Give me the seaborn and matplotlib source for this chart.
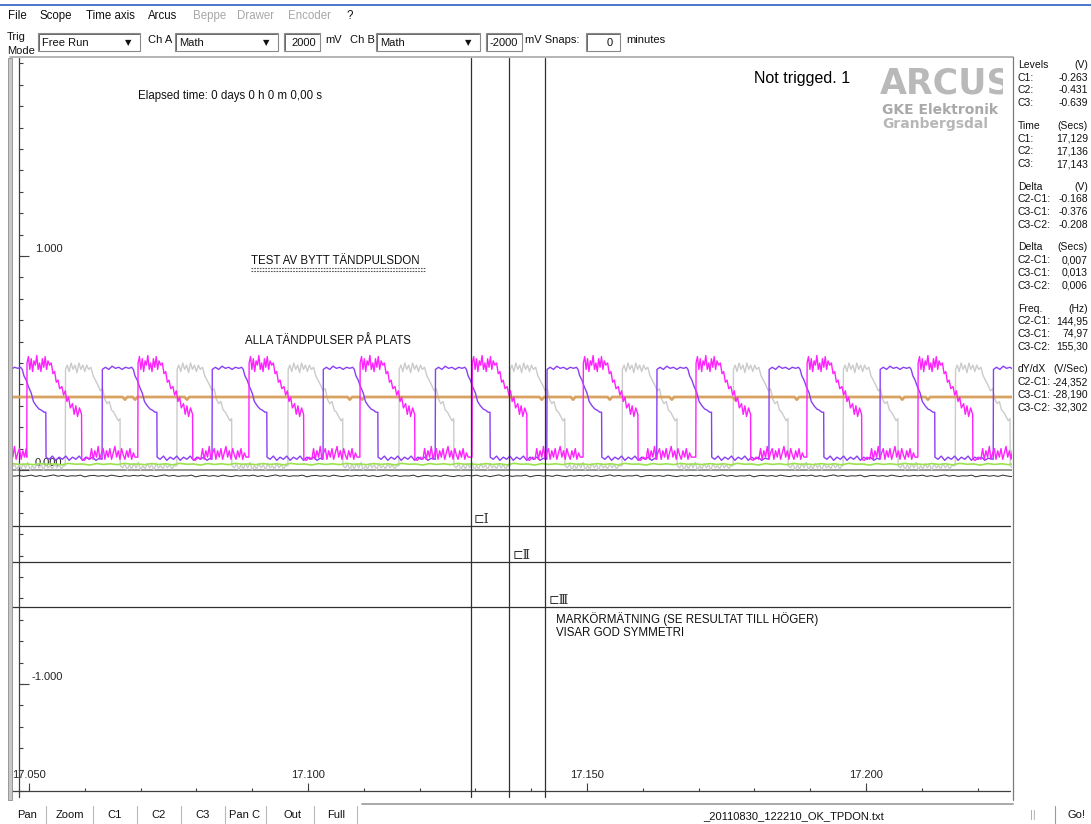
import numpy as np
import pandas as pd
import matplotlib
matplotlib.use("Agg")
import matplotlib.pyplot as plt
from matplotlib.lines import Line2D
from matplotlib.patches import Rectangle
from matplotlib.transforms import Bbox, TransformedBbox
import seaborn as sns

# ---------------------------------------------------------------- data
# Rising-edge times (s) of the three ignition-pulse channels
MAGENTA_RISE = [17.0346, 17.0496, 17.0695, 17.0894, 17.1093, 17.1294,
                17.1493, 17.1695, 17.1894, 17.2093]
GRAY_RISE = [17.0367, 17.0565, 17.0765, 17.0964, 17.1163, 17.1362,
             17.1563, 17.1762, 17.1959, 17.2160]
PURPLE_RISE = [17.0432, 17.0631, 17.0828, 17.1027, 17.1228, 17.1428,
               17.1625, 17.1826, 17.2025, 17.2228]

# One period of each pulse channel: (ms after rising edge, volts)
MAGENTA_PULSE = [
    (0.00, 0.06), (0.05, 0.50), (0.30, 0.53), (0.55, 0.47), (0.80, 0.52), (1.05, 0.46),
    (1.30, 0.51), (1.55, 0.49), (1.80, 0.535), (2.05, 0.47), (2.30, 0.50), (2.55, 0.46),
    (2.80, 0.52), (3.05, 0.48), (3.30, 0.53), (3.55, 0.47), (3.80, 0.51), (4.10, 0.49),
    (4.40, 0.50), (4.70, 0.45), (5.00, 0.46), (5.30, 0.41), (5.60, 0.42), (5.90, 0.38),
    (6.30, 0.39), (6.60, 0.35), (6.90, 0.37), (7.20, 0.32), (7.50, 0.34), (7.80, 0.29),
    (8.20, 0.31), (8.50, 0.26), (8.80, 0.30), (9.10, 0.25), (9.45, 0.29), (9.82, 0.26),
    (9.86, 0.05), (10.3, 0.045), (10.8, 0.06), (11.3, 0.05), (11.6, 0.10), (11.9, 0.05),
    (12.2, 0.09), (12.5, 0.06), (12.8, 0.11), (13.1, 0.05), (13.4, 0.08), (13.7, 0.10),
    (14.0, 0.05), (14.3, 0.09), (14.6, 0.06), (14.9, 0.10), (15.2, 0.05), (15.5, 0.08),
    (15.8, 0.11), (16.1, 0.06), (16.4, 0.09), (16.7, 0.05), (17.0, 0.10), (17.3, 0.07),
    (17.6, 0.05), (17.9, 0.09), (18.2, 0.06), (18.5, 0.10), (18.8, 0.05), (19.1, 0.08),
    (19.4, 0.06),
]
PURPLE_PULSE = [
    (0.00, 0.05), (0.05, 0.47), (0.60, 0.48), (1.20, 0.47), (1.80, 0.485), (2.40, 0.475),
    (3.00, 0.48), (3.60, 0.47), (4.20, 0.48), (4.80, 0.475), (5.30, 0.48), (5.60, 0.47),
    (5.90, 0.44), (6.30, 0.42), (6.70, 0.39), (7.20, 0.36), (7.60, 0.32), (8.10, 0.30),
    (8.60, 0.285), (9.00, 0.28), (9.50, 0.27), (9.82, 0.27), (9.86, 0.06), (10.4, 0.05),
    (11.0, 0.065), (11.6, 0.045), (12.2, 0.06), (12.8, 0.05), (13.4, 0.065), (14.0, 0.045),
    (14.6, 0.06), (15.2, 0.05), (15.8, 0.065), (16.4, 0.045), (17.0, 0.06), (17.6, 0.05),
    (18.2, 0.06), (18.8, 0.045), (19.4, 0.055),
]
GRAY_PULSE = [
    (0.00, 0.02), (0.05, 0.47), (0.35, 0.49), (0.70, 0.46), (1.05, 0.50), (1.40, 0.47),
    (1.75, 0.49), (2.10, 0.455), (2.45, 0.50), (2.80, 0.47), (3.15, 0.49), (3.50, 0.46),
    (3.85, 0.49), (4.20, 0.47), (4.60, 0.48), (5.00, 0.44), (5.40, 0.42), (5.80, 0.40),
    (6.30, 0.37), (6.70, 0.38), (7.10, 0.33), (7.50, 0.31), (7.90, 0.32), (8.30, 0.28),
    (8.70, 0.27), (9.10, 0.25), (9.50, 0.23), (9.82, 0.24), (9.86, 0.02), (10.3, 0.01),
    (10.7, 0.03), (11.1, 0.00), (11.5, 0.025), (11.9, 0.005), (12.3, 0.03), (12.7, 0.01),
    (13.1, 0.035), (13.5, 0.00), (13.9, 0.02), (14.3, 0.005), (14.7, 0.03), (15.1, 0.01),
    (15.5, 0.025), (15.9, 0.00), (16.3, 0.03), (16.7, 0.01), (17.1, 0.02), (17.5, 0.005),
    (17.9, 0.03), (18.3, 0.01), (18.7, 0.025), (19.1, 0.005), (19.5, 0.02),
]

# Slow channels, one period each (volts, sampled every STEP ms)
GREEN_CYCLE = [0.028, 0.025, 0.030, 0.026, 0.029, 0.024, 0.031, 0.027,
               0.028, 0.023, 0.030, 0.026, 0.029, 0.025, 0.031, 0.027]
GREEN_STEP = 1.25
BLACK_CYCLE = [-0.028, -0.024, -0.030, -0.026, -0.031, -0.027, -0.023, -0.029,
               -0.025, -0.030, -0.027, -0.028, -0.024, -0.032, -0.027, -0.025,
               -0.029, -0.026, -0.030, -0.024, -0.028, -0.031, -0.026, -0.029, -0.025]
BLACK_STEP = 0.8

# Supply level with its small notches
ORANGE_LEVEL = 0.341
ORANGE_NOTCHES = [17.0672, 17.0690, 17.0783, 17.1075, 17.1097, 17.1419, 17.1475,
                  17.1541, 17.1652, 17.1765, 17.1876, 17.2065, 17.2111]

# Measurement cursors
CURSOR_T = [17.1292000, 17.1360990, 17.1425381]
LEVELS = [-0.263, -0.431, -0.639]
SLOPES = [-24.352, -28.190, -32.302]
CURSOR_NAMES = ["\u228f\u2160", "\u228f\u2161", "\u228f\u2162"]

# Axis ticks
X_MAJOR = [17.05, 17.10, 17.15, 17.20]
X_MINOR = [17.05, 17.06, 17.07, 17.08, 17.09, 17.10, 17.11, 17.12, 17.13,
           17.14, 17.15, 17.16, 17.17, 17.18, 17.19, 17.20, 17.21, 17.22]
Y_MAJOR = [-1.0, 0.0, 1.0]
Y_MINOR = [round(-1.5 + 0.1 * k, 1) for k in range(35)]

XLIM = (17.04660, 17.22617)
YLIM = (-1.5421, 1.9252)

# ---------------------------------------------------------------- helpers
sns.set_theme(style="white")
plt.rcParams["font.family"] = ["Liberation Sans", "DejaVu Sans"]

W, H = 1091, 824
fig = plt.figure(figsize=(W / 100, H / 100), dpi=100, facecolor="white")


def fx(px):
    return px / W


def fy(py):
    return 1 - py / H


def ftext(x, y, s, size=8.3, color="#111111", ha="left", va="center", **kw):
    return fig.text(fx(x), fy(y), s, fontsize=size, color=color, ha=ha, va=va, **kw)


def fline(xs, ys, color="#808080", lw=0.8, **kw):
    ln = Line2D([fx(x) for x in xs], [fy(y) for y in ys],
                transform=fig.transFigure, color=color, lw=lw, **kw)
    fig.add_artist(ln)
    return ln


def frect(x0, y0, x1, y1, fc="white", ec="#808080", lw=0.8, **kw):
    r = Rectangle((fx(x0), fy(y1)), (x1 - x0) / W, (y1 - y0) / H,
                  transform=fig.transFigure, facecolor=fc, edgecolor=ec, lw=lw, **kw)
    fig.add_artist(r)
    return r


def clip_to(artist, x0, y0, x1, y1):
    artist.set_clip_box(TransformedBbox(Bbox([[fx(x0), fy(y1)], [fx(x1), fy(y0)]]),
                                        fig.transFigure))


def pulse_train(rises, template):
    rows = []
    for i, t0 in enumerate(rises):
        t_next = rises[i + 1] if i + 1 < len(rises) else np.inf
        for dt_ms, v in template:
            t = t0 + dt_ms / 1000
            if t < t_next - 1e-7:
                rows.append((t, v))
    return pd.DataFrame(rows, columns=["t", "v"])


def cycle_train(rises, values, step_ms):
    template = [(k * step_ms, v) for k, v in enumerate(values)]
    return pulse_train(rises, template)


# ---------------------------------------------------------------- scope area
AX_L, AX_R, AX_T, AX_B = 10, 1012, 58, 800
ax = fig.add_axes([fx(AX_L), fy(AX_B), (AX_R - AX_L) / W, (AX_B - AX_T) / H])
ax.set_xlim(XLIM)
ax.set_ylim(YLIM)
DT = (XLIM[1] - XLIM[0]) / (AX_R - AX_L)
DV = (YLIM[1] - YLIM[0]) / (AX_B - AX_T)


def tx(px):
    return XLIM[0] + (px - AX_L) * DT


def vy(py):
    return YLIM[1] - (py - AX_T) * DV


ax.axhline(0.0, color="#7a7a7a", lw=1.1, zorder=2)

gray_df = pulse_train(GRAY_RISE, GRAY_PULSE)
purple_df = pulse_train(PURPLE_RISE, PURPLE_PULSE)
magenta_df = pulse_train(MAGENTA_RISE, MAGENTA_PULSE)
green_df = cycle_train(MAGENTA_RISE, GREEN_CYCLE, GREEN_STEP)
black_df = cycle_train(MAGENTA_RISE, BLACK_CYCLE, BLACK_STEP)

orange_rows = [(XLIM[0] - 0.002, ORANGE_LEVEL)]
for n in ORANGE_NOTCHES:
    orange_rows += [(n - 0.0004, ORANGE_LEVEL), (n, ORANGE_LEVEL - 0.012),
                    (n + 0.0004, ORANGE_LEVEL)]
orange_rows.append((XLIM[1] + 0.002, ORANGE_LEVEL))
orange_df = pd.DataFrame(orange_rows, columns=["t", "v"])

common = dict(x="t", y="v", ax=ax, estimator=None, sort=False, legend=False)
sns.lineplot(data=gray_df, color="#cbcbcb", linewidth=1.0, zorder=3, **common)
sns.lineplot(data=orange_df, color="#d8a263", linewidth=2.0, zorder=3.5, **common)
sns.lineplot(data=green_df, color="#9be24f", linewidth=1.2, zorder=4, **common)
sns.lineplot(data=black_df, color="#2a2a2a", linewidth=0.7, zorder=4, **common)
sns.lineplot(data=purple_df, color="#8a3ff5", linewidth=1.0, zorder=5, **common)
sns.lineplot(data=magenta_df, color="#ff22ff", linewidth=1.0, zorder=6, **common)

# cursors
for t in CURSOR_T:
    ax.axvline(t, ymin=(vy(797) - YLIM[0]) / (YLIM[1] - YLIM[0]), color="#303030",
               lw=0.9, zorder=8)
for v in LEVELS:
    ax.plot([tx(10), tx(1010)], [v, v], color="#303030", lw=0.9, zorder=8)
for t, v, name in zip(CURSOR_T, LEVELS, CURSOR_NAMES):
    ax.text(t + 3 * DT, v + 6.5 * DV, name, fontsize=9,
            family=["DejaVu Serif", "DejaVu Sans"],
            color="#333333", ha="left", va="center", zorder=9)

# axes drawn inside the scope area
axis_c = "#404040"
ax.plot([tx(19), tx(19)], [YLIM[1], vy(797)], color=axis_c, lw=0.9, zorder=2)
ax.hlines(Y_MINOR, tx(19), tx(23), color=axis_c, lw=0.8, zorder=2)
ax.hlines(Y_MAJOR, tx(19), tx(29), color=axis_c, lw=0.8, zorder=2)
for v in Y_MAJOR:
    ax.text(tx(62.5), v + 7 * DV, f"{v:.3f}", fontsize=8, color="#222222",
            ha="right", va="center", zorder=1)

ax.plot([tx(10), tx(1010)], [-1.5, -1.5], color=axis_c, lw=0.9, zorder=2)
ax.vlines(X_MINOR, -1.5, -1.5 + 3 * DV, color=axis_c, lw=0.8, zorder=2)
ax.vlines(X_MAJOR, -1.5, -1.5 + 8 * DV, color=axis_c, lw=0.8, zorder=2)
for t in X_MAJOR:
    ax.text(t, -1.5 + 16 * DV, f"{t:.3f}", fontsize=8, color="#222222",
            ha="center", va="center", zorder=1)
ax.set_axis_off()

# notes written on the scope screen
ftext(138, 96, "Elapsed time: 0 days 0 h 0 m 0,00 s", size=8.3)
ftext(251, 261, "TEST AV BYTT TÄNDPULSDON", size=8.3)
fline([251, 425], [268, 268], color="#555555", lw=0.8, ls=(0, (1.5, 1)))
fline([251, 425], [270.5, 270.5], color="#555555", lw=0.8, ls=(0, (1.5, 1)))
ftext(245, 341, "ALLA TÄNDPULSER PÅ PLATS", size=8.3)
ftext(556, 619, "MARKÖRMÄTNING (SE RESULTAT TILL HÖGER)", size=8.3)
ftext(556, 633, "VISAR GOD SYMMETRI", size=8.3)
ftext(754, 78, "Not trigged. 1", size=11.5, color="black")

logo = ftext(880, 83, "ARCUS", size=25, weight="bold", family="DejaVu Sans",
             color="#b9b9b9")
clip_to(logo, 0, 0, 1003, H)
gke = ftext(882, 110, "GKE Elektronik", size=10, weight="bold", family="DejaVu Sans",
            color="#a9a9a9")
clip_to(gke, 0, 0, 1003, H)
ftext(882, 124, "Granbergsdal", size=10, weight="bold", family="DejaVu Sans",
      color="#b7b7b7")

# ---------------------------------------------------------------- window chrome
fline([0, W], [5, 5], color="#3c6cc8", lw=1.3)

MENU = [("File", 8, True), ("Scope", 40, True), ("Time axis", 86, True),
        ("Arcus", 148, True), ("Beppe", 193, False), ("Drawer", 237, False),
        ("Encoder", 288, False), ("?", 346, True)]
for label, x, enabled in MENU:
    ftext(x, 16, label, size=8.3, color="#111111" if enabled else "#a8a8a8")

ftext(7, 37, "Trig", size=8)
mode = ftext(7, 51, "Mode", size=8)
clip_to(mode, 0, 0, 60, 53.5)

for x0, x1, label in [(38, 140, "Free Run"), (175, 278, "Math"), (376, 480, "Math")]:
    frect(x0, 33, x1, 51, ec="#8a8a8a")
    fline([x0 + 1, x0 + 1, x1 - 1], [50, 34, 34], color="#505050", lw=0.6)
    ftext(x0 + 4, 42.5, label, size=8)
    ftext(x1 - 12, 43, "\u25bc", size=6, family="DejaVu Sans", ha="center", color="#111111")

for x0, x1, label in [(284, 320, "2000"), (486, 522, "-2000"), (586, 620, "0")]:
    frect(x0, 33, x1, 51, ec="#8a8a8a")
    fline([x0 + 1, x0 + 1, x1 - 1], [50, 34, 34], color="#505050", lw=0.6)
    ftext(x1 - 4 if label != "0" else x1 - 7, 42.5, label, size=8, ha="right")

ftext(148, 40, "Ch A", size=8)
ftext(325, 40, "mV", size=8)
ftext(350, 40, "Ch B", size=8)
ftext(525, 40, "mV Snaps:", size=8)
ftext(626, 40, "minutes", size=8)

# frame of the scope area
fline([10, 1013], [57, 57], color="#a8a8a8", lw=1.2)
frect(8, 58, 12, 800, fc="#c8c8c8", ec="#8c8c8c", lw=0.6)
fline([1013, 1013], [57, 800], color="#7c7c7c", lw=0.9)

# ---------------------------------------------------------------- result panel
PAIRS = [(1, 0), (2, 0), (2, 1)]
PAIR_NAMES = ["C2-C1:", "C3-C1:", "C3-C2:"]
CH_NAMES = ["C1:", "C2:", "C3:"]


def comma(s):
    return s.replace(".", ",")


level_txt = [f"{v:.3f}" for v in LEVELS]
time_txt = [comma(f"{t:.3f}") for t in CURSOR_T]
dv_txt = [f"{LEVELS[j] - LEVELS[i]:.3f}" for j, i in PAIRS]
dts = [CURSOR_T[j] - CURSOR_T[i] for j, i in PAIRS]
dt_txt = [comma(f"{d:.3f}") for d in dts]
freq_txt = [comma(f"{1 / d:.2f}") for d in dts]
slope_txt = [comma(f"{s:.3f}") for s in SLOPES]

GROUPS = [("Levels", "(V)", CH_NAMES, level_txt, 65),
          ("Time", "(Secs)", CH_NAMES, time_txt, 126),
          ("Delta", "(V)", PAIR_NAMES, dv_txt, 186.5),
          ("Delta", "(Secs)", PAIR_NAMES, dt_txt, 247.5),
          ("Freq.", "(Hz)", PAIR_NAMES, freq_txt, 308.5),
          ("dY/dX", "(V/Sec)", PAIR_NAMES, slope_txt, 369.5)]
for head, unit, names, vals, y0 in GROUPS:
    ftext(1018, y0, head, size=7.5)
    ftext(1088, y0, unit, size=7.5, ha="right")
    for k, (nm, val) in enumerate(zip(names, vals)):
        y = y0 + 12.7 * (k + 1)
        ftext(1018, y, nm, size=7.5)
        ftext(1088, y, val, size=7.5, ha="right")

# ---------------------------------------------------------------- bottom bar
BUTTONS = ["Pan", "Zoom", "C1", "C2", "C3", "Pan C", "Out", "Full"]
BUTTON_X = [27, 70, 115, 159, 203, 245, 293, 336]
SEPARATORS = [46, 93, 137, 181, 225, 266, 314, 357]
for label, x in zip(BUTTONS, BUTTON_X):
    ftext(x, 815, label, size=8, ha="center")
for x in SEPARATORS:
    fline([x, x], [806, 823], color="#b8b8b8", lw=0.8)

fline([362, 1013], [804, 804], color="#a8a8a8", lw=1.4)
ftext(703, 816, "_20110830_122210_OK_TPDON.txt", size=8)
ftext(1033, 815, "||", size=8, color="#a8a8a8", ha="center")
fline([1055, 1055], [806, 823], color="#9a9a9a", lw=0.8)
ftext(1068, 815, "Go!", size=8)

fig.savefig("out.png", dpi=100, facecolor="white")
